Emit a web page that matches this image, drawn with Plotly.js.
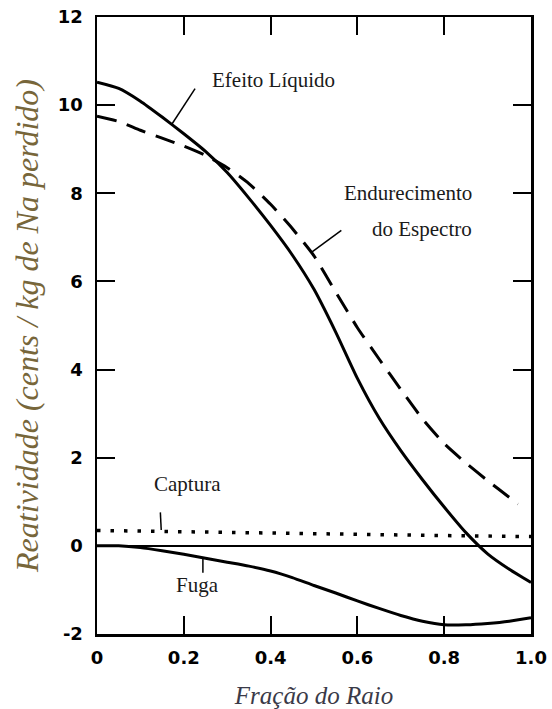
<!DOCTYPE html>
<html>
<head>
<meta charset="utf-8">
<script src="https://cdn.plot.ly/plotly-3.0.1.min.js"></script>
<style>html,body{margin:0;padding:0;background:#fff;}</style>
</head>
<body>
<div id="chart" style="width:552px;height:709px;"></div>
<script>
// Fração do Raio sample points
const raio = [0.00, 0.05, 0.10, 0.15, 0.20, 0.25, 0.30, 0.35, 0.40, 0.45, 0.50, 0.55, 0.60, 0.65, 0.70, 0.75, 0.80, 0.85, 0.90, 0.95, 1.00];

// Efeito Líquido (net effect)
const liquidoY = [10.52, 10.38, 10.09, 9.73, 9.35, 8.95, 8.47, 7.89, 7.27, 6.60, 5.82, 4.85, 3.80, 2.90, 2.16, 1.50, 0.88, 0.30, -0.18, -0.53, -0.83];

// Endurecimento do Espectro (spectral hardening) - ends near 0.97
const espectroX = [0.00, 0.05, 0.10, 0.15, 0.20, 0.25, 0.30, 0.35, 0.40, 0.45, 0.50, 0.55, 0.60, 0.65, 0.70, 0.75, 0.80, 0.85, 0.90, 0.95, 0.97];
const espectroY = [9.75, 9.63, 9.43, 9.25, 9.07, 8.86, 8.58, 8.22, 7.75, 7.20, 6.58, 5.76, 4.95, 4.24, 3.55, 2.88, 2.32, 1.88, 1.48, 1.10, 0.95];

// Captura (capture)
const capturaX = [0.00, 0.25, 0.50, 0.75, 1.00];
const capturaY = [0.35, 0.31, 0.27, 0.24, 0.21];

// Fuga (leakage)
const fugaY = [0.00, 0.00, -0.04, -0.11, -0.19, -0.28, -0.37, -0.46, -0.57, -0.72, -0.90, -1.07, -1.25, -1.42, -1.58, -1.71, -1.79, -1.79, -1.76, -1.71, -1.63];

// Axis ticks
const xTickVals = [0, 0.2, 0.4, 0.6, 0.8, 1.0];
const xTickText = ["0", "0.2", "0.4", "0.6", "0.8", "1.0"];
const yTickVals = [-2, 0, 2, 4, 6, 8, 10, 12];
const yTickText = ["-2", "0", "2", "4", "6", "8", "10", "12"];

// Labels and their pointer lines
const labels = [
  {text: "Efeito Líquido", x: 0.407, y: 10.58},
  {text: "Endurecimento", x: 0.717, y: 8.00},
  {text: "do Espectro", x: 0.749, y: 7.18},
  {text: "Captura", x: 0.209, y: 1.40},
  {text: "Fuga", x: 0.232, y: -0.89}
];
const pointers = [
  {x0: 0.226, y0: 10.375, x1: 0.172, y1: 9.56},
  {x0: 0.563, y0: 7.16, x1: 0.494, y1: 6.66},
  {x0: 0.146, y0: 0.76, x1: 0.148, y1: 0.36},
  {x0: 0.244, y0: -0.27, x1: 0.244, y1: -0.61}
];

const serif = "Times New Roman, Liberation Serif, Tinos, DejaVu Serif, serif";

const traces = [
  {x: raio, y: liquidoY, mode: "lines", name: "Efeito Líquido",
   line: {color: "#000", width: 3, shape: "spline", smoothing: 0.6}},
  {x: espectroX, y: espectroY, mode: "lines", name: "Endurecimento do Espectro",
   line: {color: "#000", width: 3, dash: "20px,11px", shape: "spline", smoothing: 0.6}},
  {x: capturaX, y: capturaY, mode: "lines", name: "Captura",
   line: {color: "#000", width: 3.5, dash: "3.5px,10px"}},
  {x: raio, y: fugaY, mode: "lines", name: "Fuga",
   line: {color: "#000", width: 3, shape: "spline", smoothing: 0.6}}
];

const tickFont = {family: "DejaVu Sans", size: 18, color: "#000", weight: "bold"};

const layout = {
  width: 552, height: 709,
  margin: {l: 97, r: 21, t: 17, b: 75},
  paper_bgcolor: "#fff", plot_bgcolor: "#fff",
  showlegend: false,
  xaxis: {
    range: [0, 1], tickvals: xTickVals, ticktext: xTickText,
    ticks: "inside", ticklen: 18, tickwidth: 2, tickcolor: "#000",
    showline: true, linewidth: 2.5, linecolor: "#000", mirror: "ticks",
    showgrid: false, zeroline: false,
    tickfont: tickFont, ticklabelstandoff: 6,
    title: {text: "Fração do Raio", standoff: 20,
            font: {family: serif, size: 25, color: "#3a3a48", style: "italic"}}
  },
  yaxis: {
    range: [-2, 12], tickvals: yTickVals, ticktext: yTickText,
    ticks: "inside", ticklen: 18, tickwidth: 2, tickcolor: "#000",
    showline: true, linewidth: 2.5, linecolor: "#000", mirror: "ticks",
    showgrid: false, zeroline: true, zerolinecolor: "#000", zerolinewidth: 1.5,
    tickfont: tickFont, ticklabelstandoff: 8,
    title: {text: "Reatividade (cents / kg de Na perdido)", standoff: 10,
            font: {family: serif, size: 32, color: "#77663a", style: "italic"}}
  },
  annotations: labels.map(l => ({
    x: l.x, y: l.y, xref: "x", yref: "y", text: l.text, showarrow: false,
    font: {family: serif, size: 21, color: "#1a1a1a"}
  })),
  shapes: pointers.map(p => ({
    type: "line", xref: "x", yref: "y", x0: p.x0, y0: p.y0, x1: p.x1, y1: p.y1,
    line: {color: "#000", width: 1.5}
  }))
};

Plotly.newPlot("chart", traces, layout, {staticPlot: true, displayModeBar: false});
</script>
</body>
</html>
